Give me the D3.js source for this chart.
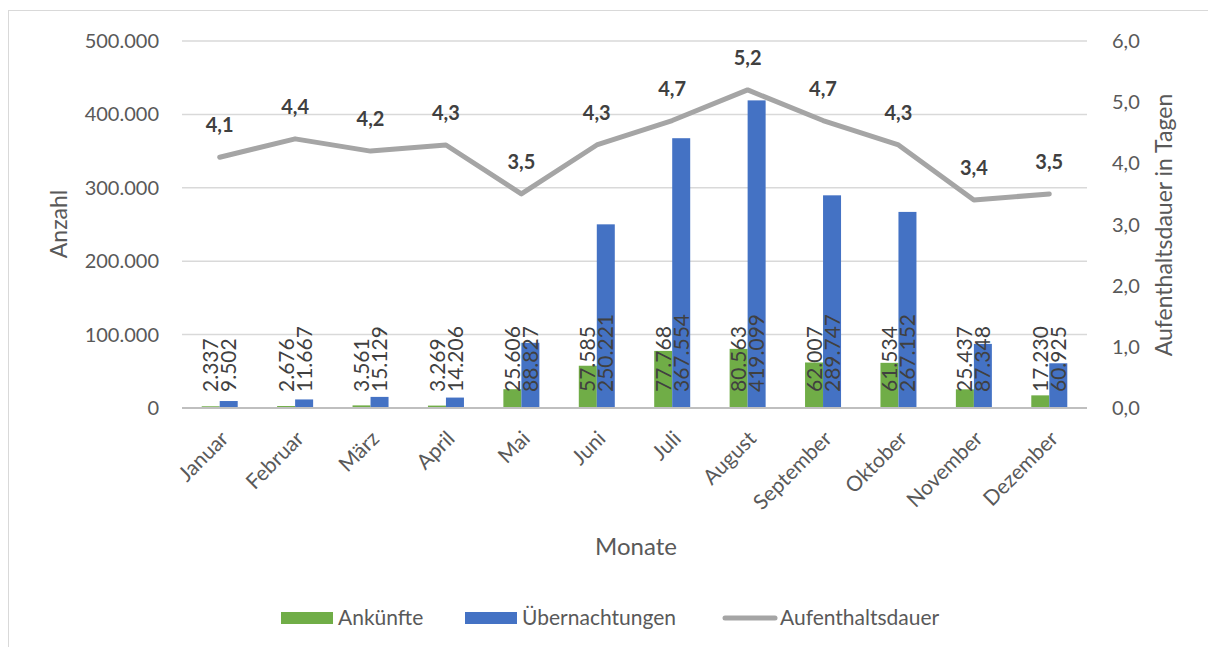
<!DOCTYPE html>
<html>
<head>
<meta charset="utf-8">
<script src="https://cdn.jsdelivr.net/npm/d3@7"></script>
<style>
  body { margin: 0; background: #fff; }
  text { font-family: Lato, "Open Sans", sans-serif; }
</style>
</head>
<body>
<div id="chart"></div>
<script>
const months = ['Januar', 'Februar', 'März', 'April', 'Mai', 'Juni', 'Juli', 'August', 'September', 'Oktober', 'November', 'Dezember'];
const arrivals = [2337, 2676, 3561, 3269, 25606, 57585, 77768, 80563, 62007, 61534, 25437, 17230];
const nights = [9502, 11667, 15129, 14206, 88827, 250221, 367554, 419099, 289747, 267152, 87348, 60925];
const stay = [4.1, 4.4, 4.2, 4.3, 3.5, 4.3, 4.7, 5.2, 4.7, 4.3, 3.4, 3.5];
const leftTicks = [0, 100000, 200000, 300000, 400000, 500000];
const rightTicks = [0, 1, 2, 3, 4, 5, 6];
const seriesNames = ['Ankünfte', 'Übernachtungen', 'Aufenthaltsdauer'];

const colors = ['#70AD47', '#4472C4', '#A5A5A5'];
const textColor = '#595959';
const W = 1208, H = 647;
const plot = { left: 182, right: 1087, top: 41, bottom: 408 };

const de = d3.formatLocale({ decimal: ',', thousands: '.', grouping: [3], currency: ['', '€'] });
const fmtInt = de.format(',d');
const fmt1 = de.format('.1f');

const svg = d3.select('#chart').append('svg')
  .attr('width', W)
  .attr('height', H);

// chart frame
svg.append('rect')
  .attr('x', 8.5).attr('y', 10.5)
  .attr('width', W - 8).attr('height', H - 10)
  .attr('fill', '#fff').attr('stroke', '#d9d9d9');

const x = d3.scaleBand().domain(months).range([plot.left, plot.right]).paddingInner(0).paddingOuter(0);
const yL = d3.scaleLinear().domain([0, 500000]).range([plot.bottom, plot.top]);
const yR = d3.scaleLinear().domain([0, 6]).range([plot.bottom, plot.top]);
const barW = 18;

// gridlines
svg.append('g').selectAll('line').data(leftTicks.slice(1)).enter()
  .append('line')
  .attr('x1', plot.left).attr('x2', plot.right)
  .attr('y1', (d) => yL(d)).attr('y2', (d) => yL(d))
  .attr('stroke', '#d9d9d9').attr('stroke-width', 1.5);

// left axis labels
svg.append('g').selectAll('text').data(leftTicks).enter()
  .append('text')
  .attr('x', 159).attr('y', (d) => yL(d))
  .attr('dy', '0.35em')
  .attr('text-anchor', 'end')
  .style('font-size', '20px').style('fill', textColor)
  .text((d) => fmtInt(d));

// right axis labels
svg.append('g').selectAll('text').data(rightTicks).enter()
  .append('text')
  .attr('x', 1112).attr('y', (d) => yR(d))
  .attr('dy', '0.35em')
  .style('font-size', '20px').style('fill', textColor)
  .text((d) => fmt1(d));

// bars
const groups = svg.append('g').selectAll('g').data(months).enter()
  .append('g');

groups.append('rect')
  .attr('x', (d) => x(d) + x.bandwidth() / 2 - barW)
  .attr('y', (d, i) => yL(arrivals[i]))
  .attr('width', barW)
  .attr('height', (d, i) => plot.bottom - yL(arrivals[i]))
  .attr('fill', colors[0]);

groups.append('rect')
  .attr('x', (d) => x(d) + x.bandwidth() / 2)
  .attr('y', (d, i) => yL(nights[i]))
  .attr('width', barW)
  .attr('height', (d, i) => plot.bottom - yL(nights[i]))
  .attr('fill', colors[1]);

// baseline
svg.append('line')
  .attr('x1', plot.left).attr('x2', plot.right)
  .attr('y1', plot.bottom).attr('y2', plot.bottom)
  .attr('stroke', '#bfbfbf').attr('stroke-width', 2);

// bar value labels (inside base, rotated)
[[arrivals, -barW / 2], [nights, barW / 2]].forEach(([vals, off]) => {
  groups.append('text')
    .attr('transform', (d) => `translate(${x(d) + x.bandwidth() / 2 + off}, ${plot.bottom - 16}) rotate(-90)`)
    .attr('dy', '0.36em')
    .style('font-size', '21px').style('fill', '#404040')
    .text((d, i) => fmtInt(vals[i]));
});

// line
const line = d3.line()
  .x((d, i) => x(months[i]) + x.bandwidth() / 2)
  .y((d) => yR(d));

svg.append('path')
  .datum(stay)
  .attr('d', line)
  .attr('fill', 'none')
  .attr('stroke', colors[2])
  .attr('stroke-width', 5)
  .attr('stroke-linejoin', 'round')
  .attr('stroke-linecap', 'round');

svg.append('g').selectAll('text').data(stay).enter()
  .append('text')
  .attr('x', (d, i) => x(months[i]) + x.bandwidth() / 2)
  .attr('y', (d) => yR(d) - 25)
  .attr('text-anchor', 'middle')
  .style('font-size', '20px').style('font-weight', 'bold').style('fill', '#404040')
  .text((d) => fmt1(d));

// month labels
svg.append('g').selectAll('text').data(months).enter()
  .append('text')
  .attr('transform', (d) => `translate(${x(d) + x.bandwidth() / 2 + 10}, 440) rotate(-45)`)
  .attr('text-anchor', 'end')
  .style('font-size', '21px').style('fill', textColor)
  .text((d) => d);

// axis titles
svg.append('text')
  .attr('transform', 'translate(67, 224) rotate(-90)')
  .attr('text-anchor', 'middle')
  .style('font-size', '23px').style('fill', textColor)
  .text('Anzahl');

svg.append('text')
  .attr('transform', 'translate(1172, 225) rotate(-90)')
  .attr('text-anchor', 'middle')
  .style('font-size', '23px').style('fill', textColor)
  .text('Aufenthaltsdauer in Tagen');

svg.append('text')
  .attr('x', 636).attr('y', 555)
  .attr('text-anchor', 'middle')
  .style('font-size', '24px').style('fill', textColor)
  .text('Monate');

// legend
const legendX = [281, 465, 723];
const legend = svg.append('g').selectAll('g').data(seriesNames).enter()
  .append('g')
  .attr('transform', (d, i) => `translate(${legendX[i]}, 618)`);

legend.filter((d, i) => i < 2).append('rect')
  .attr('x', 0).attr('y', -6).attr('width', 52).attr('height', 12)
  .attr('fill', (d, i) => colors[i]);

legend.filter((d, i) => i === 2).append('line')
  .attr('x1', 2).attr('x2', 52).attr('y1', 0).attr('y2', 0)
  .attr('stroke', colors[2]).attr('stroke-width', 5).attr('stroke-linecap', 'round');

legend.append('text')
  .attr('x', 57).attr('y', 0).attr('dy', '0.35em')
  .style('font-size', '21px').style('fill', textColor)
  .text((d) => d);
</script>
</body>
</html>
